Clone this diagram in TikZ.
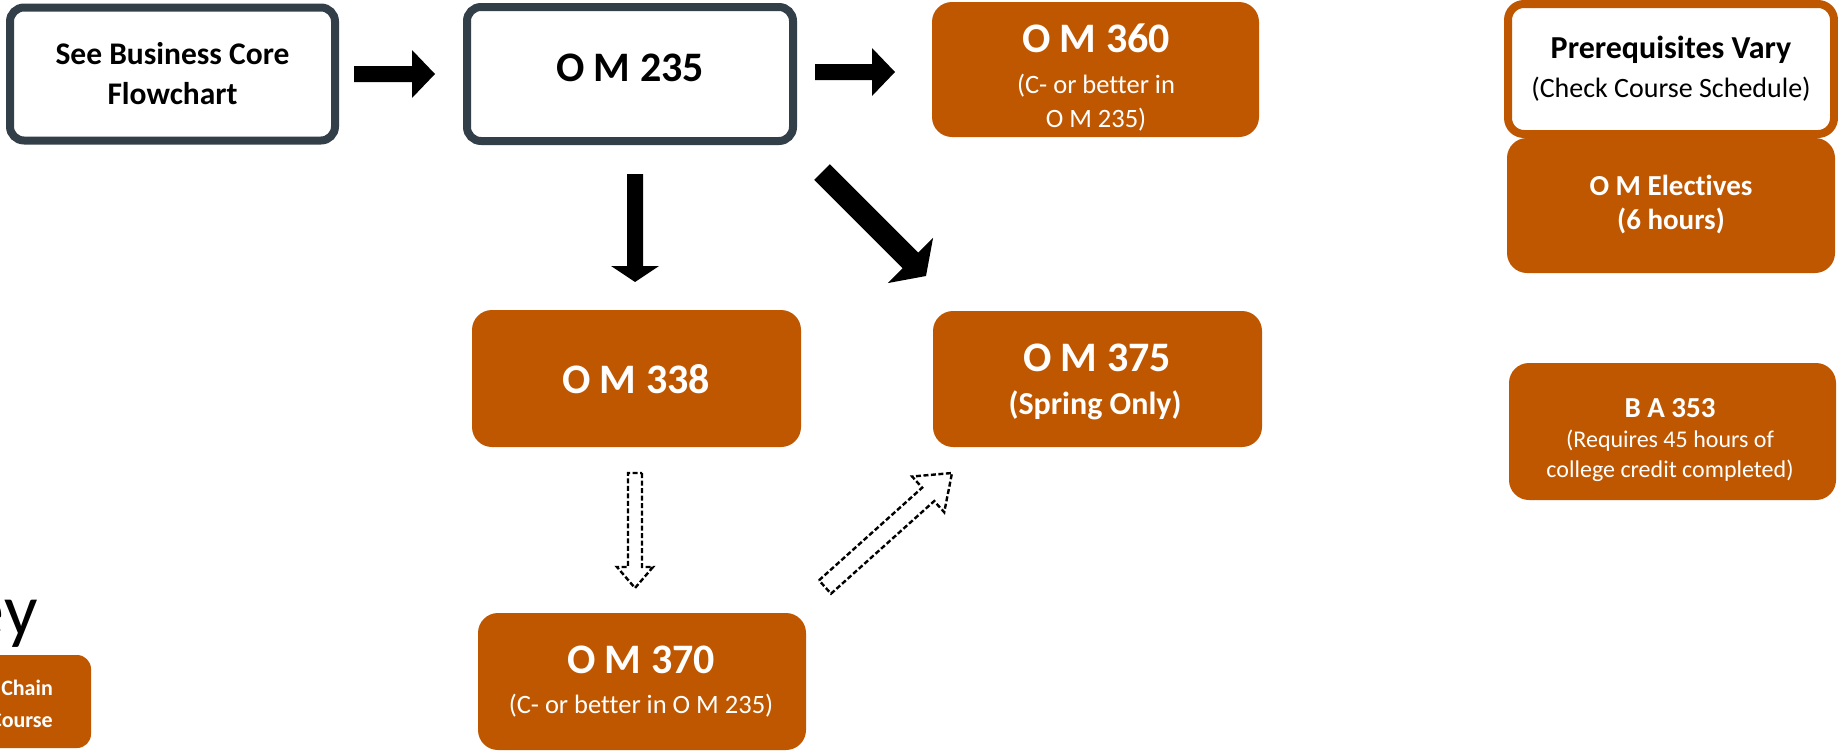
\documentclass[tikz,border=0pt]{standalone}
\usepackage{fontspec}
\setmainfont{Carlito}[Ligatures=NoCommon]
\usetikzlibrary{calc}
\definecolor{uorange}{HTML}{BF5700}
\definecolor{ucharcoal}{HTML}{333F48}
\newcommand\fsz[2]{\fontsize{#1}{#2}\selectfont}
\newcommand\blockarrow[6]{%
  \coordinate (ba-h) at ($(#3)!#6!(#2)$);
  \path[#1] ($(#2)!#4!90:(#3)$) -- ($(ba-h)!#4!90:(#3)$) -- ($(ba-h)!#5!90:(#3)$) -- (#3)
    -- ($(ba-h)!#5!-90:(#3)$) -- ($(ba-h)!#4!-90:(#3)$) -- ($(#2)!#4!-90:(#3)$) -- cycle;
}
\tikzset{
  darkbox/.style={draw=ucharcoal, line width=8pt, rounded corners=14pt, fill=white, inner sep=0pt, outer sep=0pt},
  obox/.style={fill=uorange, rounded corners=20pt, inner sep=0pt, outer sep=0pt},
  pbox/.style={draw=uorange, line width=8pt, rounded corners=16pt, fill=white, inner sep=0pt, outer sep=0pt},
  txt/.style={anchor=base, inner sep=0pt, align=center},
  wtxt/.style={txt, text=white},
  big/.style={font=\bfseries\fsz{42}{50}},
  solidarrow/.style={fill=black},
  dasharrow/.style={draw=black, line width=2.4pt, dash pattern=on 5pt off 2.5pt, line join=miter, fill=white}
}
\begin{document}
\begin{tikzpicture}[x=1pt, y=-1pt]
\useasboundingbox (0,0) rectangle (1838,750);
\clip (0,0) rectangle (1838,750);
\fill[white] (0,0) rectangle (1838,750);

% boxes
\node[darkbox, minimum width=325pt, minimum height=133pt] (core) at (172.5,74) {};
\node[darkbox, minimum width=326pt, minimum height=134pt] (om235) at (630,74) {};
\node[obox, minimum width=327pt, minimum height=135pt] (om360) at (1095.5,69.5) {};
\node[obox, minimum width=328pt, minimum height=135pt] (elect) at (1671,205.5) {};
\node[pbox, minimum width=326pt, minimum height=130pt] (prereq) at (1671,69) {};
\node[obox, minimum width=329pt, minimum height=137pt] (om338) at (636.5,378.5) {};
\node[obox, minimum width=329pt, minimum height=136pt] (om375) at (1097.5,379) {};
\node[obox, minimum width=327pt, minimum height=137pt] (ba353) at (1672.5,431.5) {};
\node[obox, minimum width=328pt, minimum height=137pt] (om370) at (642,681.5) {};
\node[obox, rounded corners=14pt, minimum width=160pt, minimum height=93pt] (keybox) at (11,701.5) {};

% texts
\node[txt, font=\bfseries\fsz{31.5}{40}] (coreA) at (172.5,64) {See Business Core};
\node[txt, font=\bfseries\fsz{31.5}{40}] (coreB) at (172.5,104) {Flowchart};
\node[txt, big] (om235t) at (630,81) {O M 235};

\node[wtxt, big] (om360t) at (1096,52) {O M 360};
\node[wtxt, font=\fsz{26.5}{34}] (om360a) at (1096,93) {(C- or better in};
\node[wtxt, font=\fsz{26.5}{34}] (om360b) at (1096,127) {O M 235)};

\node[txt, font=\bfseries\fsz{32}{39}] (prereqA) at (1671,58) {Prerequisites Vary};
\node[txt, font=\fsz{28}{39}] (prereqB) at (1671,97) {(Check Course Schedule)};

\node[wtxt, font=\bfseries\fsz{29}{35}] (electA) at (1671,195) {O M Electives};
\node[wtxt, font=\bfseries\fsz{29}{35}] (electB) at (1671,229) {(6 hours)};

\node[wtxt, big] (om338t) at (636,393) {O M 338};

\node[wtxt, big] (om375t) at (1097,371) {O M 375};
\node[wtxt, font=\bfseries\fsz{32}{39}] (om375s) at (1095,414) {(Spring Only)};

\node[wtxt, font=\bfseries\fsz{29}{35}] (ba353t) at (1670,417) {B A 353};
\node[wtxt, font=\fsz{24}{30}] (ba353a) at (1670,447) {(Requires 45 hours of};
\node[wtxt, font=\fsz{24}{30}] (ba353b) at (1670,477) {college credit completed)};

\node[wtxt, big] (om370t) at (641,673) {O M 370};
\node[wtxt, font=\fsz{26.5}{34}] (om370a) at (641,713) {(C- or better in O M 235)};

% key
\node[anchor=base east, inner sep=0pt, font=\fsz{74}{80}] (keyt) at (38,635) {Key};
\node[anchor=base east, inner sep=0pt, text=white, font=\bfseries\fsz{22}{32}] (keyA) at (53,695) {Chain};
\node[anchor=base east, inner sep=0pt, text=white, font=\bfseries\fsz{22}{32}] (keyB) at (53,727) {Course};

% connectors
\coordinate (a1s) at ($(core.east)+(19,0)$);
\coordinate (a1e) at ($(om235.west)+(-32,0)$);
\blockarrow{solidarrow}{a1s}{a1e}{8pt}{24pt}{23pt}

\coordinate (a2s) at ($(om235.east)+(22,-2)$);
\coordinate (a2e) at ($(om360.west)+(-37,2.5)$);
\blockarrow{solidarrow}{a2s}{a2e}{8pt}{24pt}{23pt}

\coordinate (a3s) at ($(om235.south)+(5,33)$);
\coordinate (a3e) at ($(om338.north)+(-1.5,-28)$);
\blockarrow{solidarrow}{a3s}{a3e}{8pt}{24pt}{16pt}

\coordinate (a4s) at ($(om235.south east)+(29,31)$);
\coordinate (a4e) at ($(om375.north west)+(-7,-35)$);
\blockarrow{solidarrow}{a4s}{a4e}{11pt}{32pt}{22pt}

\coordinate (a5s) at ($(om338.south)+(-1.5,26)$);
\coordinate (a5e) at ($(om370.north)+(-7,-25)$);
\blockarrow{dasharrow}{a5s}{a5e}{7pt}{18pt}{21pt}

\coordinate (a6s) at ($(om370.north east)+(19,-26)$);
\coordinate (a6e) at ($(om375.south west)+(19,26)$);
\blockarrow{dasharrow}{a6s}{a6e}{9pt}{24pt}{32pt}
\end{tikzpicture}
\end{document}
